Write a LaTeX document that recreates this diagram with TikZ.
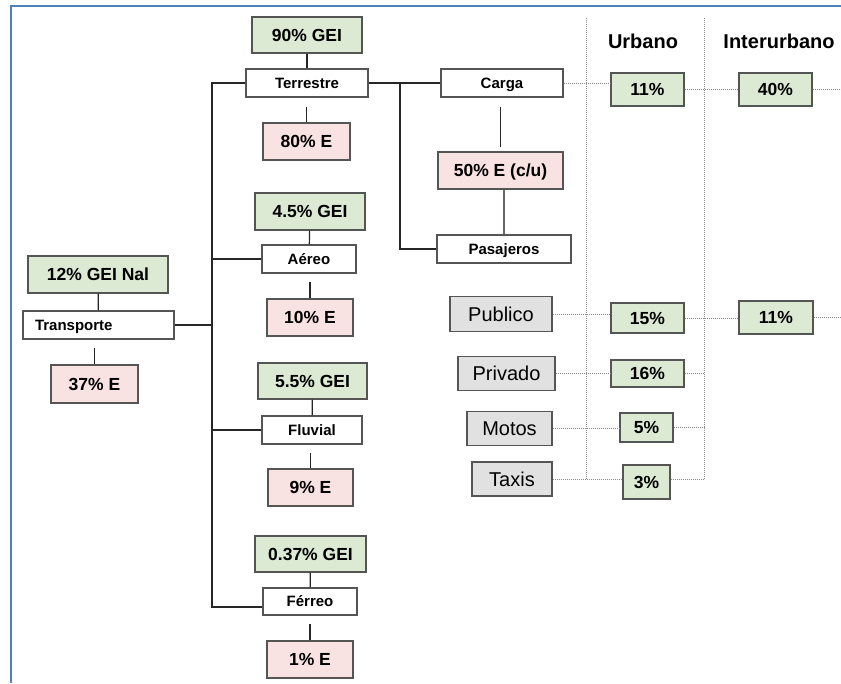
\documentclass[tikz,border=0pt]{standalone}
\usepackage{xcolor}
\usepackage{fontspec}
\setmainfont{Liberation Sans}
\usepackage{tikz}
\usetikzlibrary{shapes.geometric}
\usetikzlibrary{arrows,shapes}

\definecolor{geigreen}{RGB}{220,234,211}
\definecolor{epink}{RGB}{249,226,226}
\definecolor{modegray}{RGB}{225,225,225}
\definecolor{boxedge}{RGB}{85,85,85}
\definecolor{frameblue}{RGB}{79,129,189}

\tikzset{
  gei/.style={fill=geigreen, text=black, rectangle, draw=boxedge, line width=1.3pt,
    inner sep=0pt, text height=12.5pt, text depth=0pt,
    font=\fontsize{17.5}{20}\selectfont\bfseries},
  ebox/.style={fill=epink, text=black, rectangle, draw=boxedge, line width=1.3pt,
    inner sep=0pt, text height=12.5pt, text depth=0pt,
    font=\fontsize{17.5}{20}\selectfont\bfseries},
  modo/.style={fill=white, text=black, rectangle, draw=boxedge, line width=1.3pt,
    inner sep=0pt, text height=10.7pt, text depth=0pt,
    font=\fontsize{15}{17}\selectfont\bfseries},
  tipo/.style={fill=modegray, text=black, rectangle, draw=boxedge, line width=1.6pt,
    inner sep=0pt, text height=14.3pt, text depth=0pt,
    font=\fontsize{20}{23}\selectfont},
  cabeza/.style={text=black, font=\fontsize{20}{23}\selectfont\bfseries},
  enlace/.style={line width=1.2pt, draw=black!85},
  punteada/.style={densely dotted, line width=1pt, draw=black!45}
}

\begin{document}
\begin{tikzpicture}[x=1pt,y=-1pt]
\useasboundingbox (0,0) rectangle (841,683);
\draw[frameblue, line width=2.5pt] (11,683) |- (841,6);

 \node[gei, minimum width=140, minimum height=37] (g0) at (98,274.5) {12\% GEI Nal};

 \node[modo, minimum width=151, minimum height=28, text width=127pt, align=left,
    inner xsep=12pt] (t0) at (98.5,325) {Transporte};

 \node[ebox, minimum width=87, minimum height=38] (e0) at (94.5,384) {37\% E};

 \node[gei, minimum width=110, minimum height=36] (g1) at (307,35) {90\% GEI};

 \node[modo, minimum width=122, minimum height=28] (t1) at (307,83) {Terrestre};

 \node[ebox, minimum width=87, minimum height=37] (e1) at (306.5,141.5) {80\% E};

 \node[gei, minimum width=110, minimum height=37] (g2) at (310,211.5) {4.5\% GEI};

 \node[modo, minimum width=94, minimum height=28] (t2) at (309,259) {Aéreo};

 \node[ebox, minimum width=86, minimum height=37] (e2) at (310,317.5) {10\% E};

 \node[gei, minimum width=109, minimum height=36] (g3) at (312.5,381) {5.5\% GEI};

 \node[modo, minimum width=100, minimum height=28] (t3) at (312,430) {Fluvial};

 \node[ebox, minimum width=85, minimum height=37] (e3) at (310.5,487.5) {9\% E};

 \node[gei, minimum width=111, minimum height=36] (g4) at (310.5,554) {0.37\% GEI};

 \node[modo, minimum width=94, minimum height=27] (t4) at (310,601.5) {Férreo};

 \node[ebox, minimum width=86, minimum height=37] (e4) at (310,659.5) {1\% E};

 \node[modo, minimum width=122, minimum height=28] (c1) at (502,83) {Carga};

 \node[ebox, minimum width=125, minimum height=37] (e5) at (500.5,170.5) {50\% E (c/u)};

 \node[modo, minimum width=134, minimum height=28] (c2) at (504,249) {Pasajeros};

 \node[tipo, minimum width=102, minimum height=35] (p1) at (501,314) {Publico};

 \node[tipo, minimum width=97, minimum height=34] (p2) at (506.5,373.5) {Privado};

 \node[tipo, minimum width=85, minimum height=34] (p3) at (509.5,428.5) {Motos};

 \node[tipo, minimum width=80, minimum height=34] (p4) at (512,479) {Taxis};

\node[cabeza] (h1) at (643,41) {Urbano};
\node[cabeza] (h2) at (779,41) {Interurbano};

 \node[gei, minimum width=73, minimum height=33] (u1) at (647.5,89.5) {11\%};

 \node[gei, minimum width=73, minimum height=30] (u2) at (647.5,318) {15\%};

 \node[gei, minimum width=73, minimum height=27] (u3) at (647.5,373.5) {16\%};

 \node[gei, minimum width=53, minimum height=29] (u4) at (646.5,427.5) {5\%};

 \node[gei, minimum width=47, minimum height=34] (u5) at (646.5,482) {3\%};

 \node[gei, minimum width=73, minimum height=33] (i1) at (775.5,89.5) {40\%};

 \node[gei, minimum width=74, minimum height=33] (i2) at (776,317.5) {11\%};

\coordinate (k1) at (212,83);
\coordinate (k4) at (212,607);
\coordinate (k5) at (400,83);
\coordinate (v1a) at (586,18);
\coordinate (v1b) at (586,479);
\coordinate (v2a) at (704,18);
\coordinate (v2b) at (704,479);
\coordinate (borde) at (841,0);

\draw[enlace] (g0) -- (t0);
\draw[enlace] (e0.north) -- ++(0,-16);
\draw[enlace] (t0.east) -- (t0.east -| k1);
\draw[enlace] (t1.west) -- (k1) -- (k4) -- (k4 -| t4.west);
\draw[enlace] (t2.west) -- (t2.west -| k1);
\draw[enlace] (t3.west) -- (t3.west -| k1);

\draw[enlace] (g1) -- (t1);
\draw[enlace] (e1.north) -- ++(0,-15);
\draw[enlace] (g2) -- (t2);
\draw[enlace] (e2.north) -- ++(0,-16);
\draw[enlace] (g3) -- (t3);
\draw[enlace] (e3.north) -- ++(0,-15);
\draw[enlace] (g4) -- (t4);
\draw[enlace] (e4.north) -- ++(0,-16);

\draw[enlace] (t1.east) -- (c1.west);
\draw[enlace] (k5) |- (c2.west);
\draw[enlace] ([yshift=4pt]e5.north) -- ++(0,-40);
\draw[enlace, draw=black!60, line width=1.5pt] ([xshift=3.5pt]e5.south)
    -- ([xshift=3.5pt]e5.south |- c2.north);

\draw[punteada] (v1a) -- (v1b);
\draw[punteada] (v2a) -- (v2b);

\draw[punteada] (c1.east) -- (c1.east -| u1.west);
\draw[punteada] (u1.east) -- (i1.west);
\draw[punteada] (i1.east) -- (i1.east -| borde);
\draw[punteada] (p1.east) -- (p1.east -| u2.west);
\draw[punteada] (u2.east) -- (u2.east -| i2.west);
\draw[punteada] (i2.east) -- (i2.east -| borde);
\draw[punteada] (p2.east) -- (p2.east -| u3.west);
\draw[punteada] (u3.east) -- (u3.east -| v2b);
\draw[punteada] (p3.east) -- (p3.east -| u4.west);
\draw[punteada] (u4.east) -- (u4.east -| v2b);
\draw[punteada] (p4.east) -- (p4.east -| u5.west);
\draw[punteada] (p4.east -| u5.east) -- (v2b);

\end{tikzpicture}
\end{document}
